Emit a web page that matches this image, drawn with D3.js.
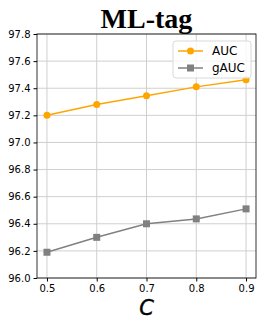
<!DOCTYPE html>
<html lang="en">
  <head>
  <title>ML-tag</title>
    <style>
      body { margin: 0; background: #fff; }
      text { font-family: 'DejaVu Sans', sans-serif; }
    </style>
  </head>
  <body>
<div id="chart"></div>
    <script src="https://d3js.org/d3.v7.min.js"></script>
    <script>
    var cValues = [0.5, 0.6, 0.7, 0.8, 0.9];
    var aucValues = [97.20, 97.28, 97.345, 97.41, 97.463];
    var gaucValues = [96.19, 96.30, 96.40, 96.436, 96.51];
    var yTicks = [96.0, 96.2, 96.4, 96.6, 96.8, 97.0, 97.2, 97.4, 97.6, 97.8];

    var width = 266, height = 332;
    var margin = {left: 37, right: 10, top: 34, bottom: 54};

    var svg = d3.select("#chart").append("svg")
        .attr("width", width)
        .attr("height", height);

    var x = d3.scaleLinear().domain([0.48, 0.92]).range([margin.left, width - margin.right]);
    var y = d3.scaleLinear().domain([96.0, 97.8]).range([height - margin.bottom, margin.top]);

    // grid
    svg.append("g").selectAll("line.vg").data(cValues).enter().append("line")
        .attr("x1", function(d){ return x(d); }).attr("x2", function(d){ return x(d); })
        .attr("y1", y(96.0)).attr("y2", y(97.8))
        .attr("stroke", "#cfcfcf").attr("stroke-width", 1);
    svg.append("g").selectAll("line.hg").data(yTicks).enter().append("line")
        .attr("x1", x(0.48)).attr("x2", x(0.92))
        .attr("y1", function(d){ return y(d); }).attr("y2", function(d){ return y(d); })
        .attr("stroke", "#cfcfcf").attr("stroke-width", 1);

    // axes
    var xAxis = svg.append("g")
        .attr("transform", "translate(0," + y(96.0) + ")")
        .call(d3.axisBottom(x).tickValues(cValues).tickFormat(d3.format(".1f")).tickSize(3.5));
    var yAxis = svg.append("g")
        .attr("transform", "translate(" + x(0.48) + ",0)")
        .call(d3.axisLeft(y).tickValues(yTicks).tickFormat(d3.format(".1f")).tickSize(3.5));
    [xAxis, yAxis].forEach(function(a){
      a.selectAll("text").attr("font-size", 10).attr("fill", "#000").style("font-family", "'DejaVu Sans', sans-serif");
      a.select(".domain").remove();
      a.selectAll("line").attr("stroke", "#000");
    });

    // frame
    svg.append("rect")
        .attr("x", x(0.48)).attr("y", y(97.8))
        .attr("width", x(0.92) - x(0.48)).attr("height", y(96.0) - y(97.8))
        .attr("fill", "none").attr("stroke", "#000").attr("stroke-width", 0.8);

    var line = d3.line()
        .x(function(d, i){ return x(cValues[i]); })
        .y(function(d){ return y(d); });

    // AUC
    svg.append("path").datum(aucValues).attr("d", line)
        .attr("fill", "none").attr("stroke", "orange").attr("stroke-width", 1.5);
    svg.append("g").selectAll("circle").data(aucValues).enter().append("circle")
        .attr("cx", function(d, i){ return x(cValues[i]); })
        .attr("cy", function(d){ return y(d); })
        .attr("r", 3.5).attr("fill", "orange");

    // gAUC
    svg.append("path").datum(gaucValues).attr("d", line)
        .attr("fill", "none").attr("stroke", "gray").attr("stroke-width", 1.5);
    svg.append("g").selectAll("rect").data(gaucValues).enter().append("rect")
        .attr("x", function(d, i){ return x(cValues[i]) - 3.5; })
        .attr("y", function(d){ return y(d) - 3.5; })
        .attr("width", 7).attr("height", 7).attr("fill", "gray");

    // legend
    var legend = svg.append("g").attr("transform", "translate(173,41)");
    legend.append("rect").attr("width", 78).attr("height", 37).attr("rx", 3)
        .attr("fill", "#fff").attr("fill-opacity", 0.8).attr("stroke", "#d9d9d9");
    var items = [{name: "AUC", color: "orange", shape: "circle"}, {name: "gAUC", color: "gray", shape: "square"}];
    items.forEach(function(it, i){
      var g = legend.append("g").attr("transform", "translate(0," + (10 + i * 17) + ")");
      g.append("line").attr("x1", 5).attr("x2", 30).attr("stroke", it.color).attr("stroke-width", 1.5);
      if (it.shape == "circle") {
        g.append("circle").attr("cx", 17.5).attr("r", 3.5).attr("fill", it.color);
      } else {
        g.append("rect").attr("x", 14).attr("y", -3.5).attr("width", 7).attr("height", 7).attr("fill", it.color);
      }
      g.append("text").attr("x", 39).attr("dy", "0.35em").attr("font-size", 12).text(it.name);
    });

    // title and label
    svg.append("text").attr("x", (x(0.48) + x(0.92)) / 2).attr("y", 28)
        .attr("text-anchor", "middle").attr("font-size", 28).attr("font-weight", "bold")
        .style("font-family", "'Liberation Serif', 'Times New Roman', serif")
        .text("ML-tag");
    svg.append("text").attr("x", (x(0.48) + x(0.92)) / 2).attr("y", 315)
        .attr("text-anchor", "middle").attr("font-size", 21).attr("font-style", "italic")
        .attr("stroke", "#000").attr("stroke-width", 0.4)
        .text("C");
    </script>
  </body>
</html>
